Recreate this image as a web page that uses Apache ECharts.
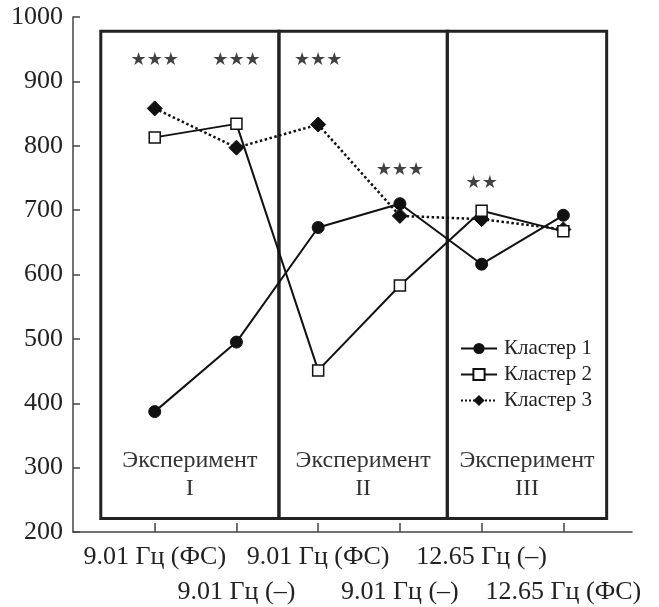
<!DOCTYPE html>
<html>
<head>
<meta charset="utf-8">
<script src="https://cdn.jsdelivr.net/npm/echarts@6/dist/echarts.min.js"></script>
<style>html,body{margin:0;padding:0;background:#fff}#c{width:659px;height:607px}</style>
</head>
<body>
<div id="c"></div>
<script>
var categories = ['9.01 Гц (ФС)', '9.01 Гц (–)', '9.01 Гц (ФС)', '9.01 Гц (–)', '12.65 Гц (–)', '12.65 Гц (ФС)'];
var xPositions = [1, 2, 3, 4, 5, 6];
var cluster1 = [387, 495, 673, 710, 616, 692];
var cluster2 = [813, 834, 451, 583, 699, 667];
var cluster3 = [858, 797, 833, 691, 686, 670];
var seriesNames = ['Кластер 1', 'Кластер 2', 'Кластер 3'];
var starText = ['★★★', '★★★', '★★★', '★★★', '★★'];
var starX = [1, 2, 3, 4, 5];
var starY = [933, 933, 933, 762, 741];
var boxNames = ['Эксперимент\nI', 'Эксперимент\nII', 'Эксперимент\nIII'];
var boxX = [[0.34, 2.52], [2.52, 4.58], [4.58, 6.53]];
var boxY = [221, 978];
var yTicks = {min: 200, max: 1000, interval: 100};

var FONT = '"Liberation Serif", "DejaVu Serif", serif';
function pts(vals) { return xPositions.map(function (x, i) { return [x, vals[i]]; }); }

var chart = echarts.init(document.getElementById('c'));
chart.setOption({
  animation: false,
  backgroundColor: '#fff',
  grid: {left: 73, right: 27, top: 17, bottom: 75, containLabel: false, outerBoundsMode: 'none'},
  legend: {
    orient: 'vertical', left: 455, top: 333,
    itemWidth: 36, itemHeight: 14, itemGap: 5,
    textStyle: {fontFamily: FONT, fontSize: 21, color: '#222', padding: [0, 0, 0, 2]},
    data: seriesNames
  },
  xAxis: {
    type: 'value', min: 0, max: 6.84, interval: 1,
    axisLine: {show: true, lineStyle: {color: '#444', width: 1.5}},
    axisTick: {show: true, inside: true, length: 9, lineStyle: {color: '#444', width: 1.5}},
    splitLine: {show: false},
    axisLabel: {
      showMaxLabel: false, showMinLabel: false,
      margin: 8, fontFamily: FONT, fontSize: 26, color: '#222', lineHeight: 35,
      formatter: function (v) {
        var i = Math.round(v);
        if (Math.abs(v - i) > 1e-6 || i < 1 || i > 6) return '';
        return i % 2 === 1 ? categories[i - 1] : '\n' + categories[i - 1];
      }
    }
  },
  yAxis: {
    type: 'value', min: yTicks.min, max: yTicks.max, interval: yTicks.interval,
    axisLine: {show: true, lineStyle: {color: '#444', width: 1.5}},
    axisTick: {show: true, inside: true, length: 7, lineStyle: {color: '#444', width: 1.5}},
    splitLine: {show: false},
    axisLabel: {margin: 10, fontFamily: FONT, fontSize: 26, color: '#222',
      formatter: function (v) { return String(v); }}
  },
  series: [
    {
      type: 'scatter', name: 'stars', symbolSize: 0, silent: true,
      data: starX.map(function (x, i) { return {value: [x, starY[i]], label: {formatter: starText[i]}}; }),
      label: {show: true, position: 'inside', fontFamily: '"DejaVu Sans", sans-serif', fontSize: 18, color: '#111'},
      markArea: {
        silent: true,
        itemStyle: {color: 'rgba(0,0,0,0)', borderColor: '#222', borderWidth: 3},
        label: {
          show: true, position: 'insideBottom', distance: 17,
          fontFamily: FONT, fontSize: 24, lineHeight: 28, color: '#333'
        },
        data: boxX.map(function (b, i) {
          return [{name: boxNames[i], coord: [b[0], boxY[1]]}, {coord: [b[1], boxY[0]]}];
        })
      },
      z: 1
    },
    {
      type: 'line', name: seriesNames[0], data: pts(cluster1),
      symbol: 'circle', symbolSize: 12,
      lineStyle: {color: '#111', width: 2},
      itemStyle: {color: '#111', borderColor: '#111'}, z: 4
    },
    {
      type: 'line', name: seriesNames[1], data: pts(cluster2),
      symbol: 'rect', symbolSize: 11,
      lineStyle: {color: '#111', width: 2},
      itemStyle: {color: '#fff', borderColor: '#111', borderWidth: 1.5}, z: 3
    },
    {
      type: 'line', name: seriesNames[2], data: pts(cluster3),
      symbol: 'diamond', symbolSize: 15,
      lineStyle: {color: '#111', width: 2.5, type: 'dotted'},
      itemStyle: {color: '#111', borderColor: '#111'}, z: 2
    }
  ]
});
</script>
</body>
</html>
